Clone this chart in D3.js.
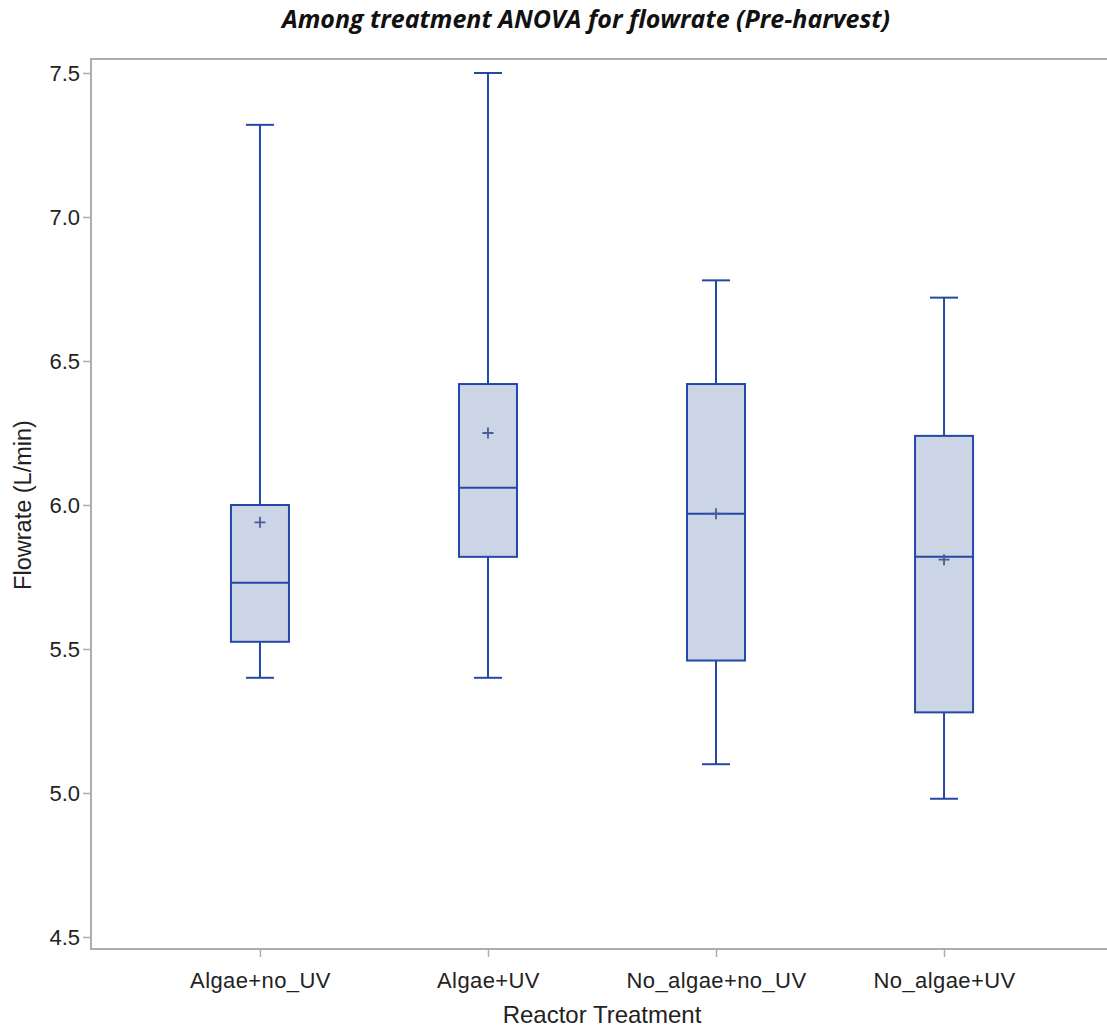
<!DOCTYPE html>
<html>
<head>
<meta charset="utf-8">
<script src="https://cdn.jsdelivr.net/npm/d3@7"></script>
<style>
  html, body { margin: 0; padding: 0; background: #fff; }
  svg { display: block; }
</style>
</head>
<body>
<svg id="chart" width="1107" height="1028"></svg>
<script>
// Reactor treatments and their flowrate summary statistics (L/min)
const categories = ["Algae+no_UV", "Algae+UV", "No_algae+no_UV", "No_algae+UV"];
const whiskerLow  = [5.40, 5.40, 5.10, 4.98];
const q1          = [5.525, 5.82, 5.46, 5.28];
const medians     = [5.73, 6.06, 5.97, 5.82];
const q3          = [6.00, 6.42, 6.42, 6.24];
const whiskerHigh = [7.32, 7.50, 6.78, 6.72];
const means       = [5.94, 6.25, 5.97, 5.81];
const yTicks = [4.5, 5.0, 5.5, 6.0, 6.5, 7.0, 7.5];

const svg = d3.select("#chart");
const plot = { left: 91, right: 1113, top: 59, bottom: 949 };
const blue = "#2548a8";
const frameColor = "#a9aeb4";
const labelFont = "'Liberation Sans', Arial, sans-serif";

const y = d3.scaleLinear().domain([4.5, 7.5]).range([937, 73]);
const x = d3.scalePoint().domain(categories).range([plot.left, plot.right]).padding(0.741);

// Title
svg.append("text")
  .attr("x", 586).attr("y", 28)
  .attr("text-anchor", "middle")
  .attr("font-family", "'Open Sans', sans-serif")
  .attr("font-style", "italic").attr("font-weight", "bold")
  .attr("font-size", 25)
  .attr("fill", "#111")
  .text("Among treatment ANOVA for flowrate (Pre-harvest)");

// Plot frame
svg.append("rect")
  .attr("x", plot.left).attr("y", plot.top)
  .attr("width", plot.right - plot.left).attr("height", plot.bottom - plot.top)
  .attr("fill", "none").attr("stroke", frameColor).attr("stroke-width", 2);

// Y axis
const yAxis = svg.append("g")
  .attr("transform", `translate(${plot.left},0)`)
  .call(d3.axisLeft(y).tickValues(yTicks).tickFormat(d3.format(".1f")).tickSize(8).tickPadding(3));
yAxis.select(".domain").remove();
yAxis.selectAll(".tick line").attr("stroke", frameColor).attr("stroke-width", 1.5);
yAxis.selectAll(".tick text")
  .attr("font-family", labelFont)
  .attr("font-size", 22).attr("fill", "#222");

// X axis
const xAxis = svg.append("g")
  .attr("transform", `translate(0,${plot.bottom})`)
  .call(d3.axisBottom(x).tickSize(8).tickPadding(15));
xAxis.select(".domain").remove();
xAxis.selectAll(".tick line").attr("stroke", frameColor).attr("stroke-width", 1.5);
xAxis.selectAll(".tick text")
  .attr("font-family", labelFont)
  .attr("font-size", 22).attr("letter-spacing", "0.4").attr("fill", "#222");

// Axis titles
svg.append("text")
  .attr("transform", "translate(31,505) rotate(-90)")
  .attr("text-anchor", "middle")
  .attr("font-family", labelFont)
  .attr("font-size", 23.5).attr("fill", "#222")
  .text("Flowrate (L/min)");
svg.append("text")
  .attr("x", 602).attr("y", 1023)
  .attr("text-anchor", "middle")
  .attr("font-family", labelFont)
  .attr("font-size", 24).attr("fill", "#222")
  .text("Reactor Treatment");

// Box plots
const boxW = 58, capW = 28;
const rows = categories.map((c, i) => ({
  c, lo: whiskerLow[i], q1: q1[i], med: medians[i], q3: q3[i], hi: whiskerHigh[i], mean: means[i]
}));

const g = svg.append("g")
  .attr("fill", "none").attr("stroke", blue).attr("stroke-width", 2);

const box = g.selectAll("g.box").data(rows).join("g").attr("class", "box");

// whiskers
box.append("line")
  .attr("x1", d => x(d.c)).attr("x2", d => x(d.c))
  .attr("y1", d => y(d.hi)).attr("y2", d => y(d.q3));
box.append("line")
  .attr("x1", d => x(d.c)).attr("x2", d => x(d.c))
  .attr("y1", d => y(d.q1)).attr("y2", d => y(d.lo));
// caps
box.append("line")
  .attr("x1", d => x(d.c) - capW / 2).attr("x2", d => x(d.c) + capW / 2)
  .attr("y1", d => y(d.hi)).attr("y2", d => y(d.hi));
box.append("line")
  .attr("x1", d => x(d.c) - capW / 2).attr("x2", d => x(d.c) + capW / 2)
  .attr("y1", d => y(d.lo)).attr("y2", d => y(d.lo));
// interquartile box
box.append("rect")
  .attr("x", d => x(d.c) - boxW / 2).attr("width", boxW)
  .attr("y", d => y(d.q3)).attr("height", d => y(d.q1) - y(d.q3))
  .attr("fill", "#cbd5e6");
// median
box.append("line")
  .attr("x1", d => x(d.c) - boxW / 2).attr("x2", d => x(d.c) + boxW / 2)
  .attr("y1", d => y(d.med)).attr("y2", d => y(d.med));
// mean marker
box.append("path")
  .attr("d", d => {
    const cx = x(d.c), cy = y(d.mean), r = 5.5;
    return `M${cx - r},${cy}H${cx + r}M${cx},${cy - r}V${cy + r}`;
  })
  .attr("stroke", "#4a5a9a").attr("stroke-width", 1.8);
</script>
</body>
</html>
